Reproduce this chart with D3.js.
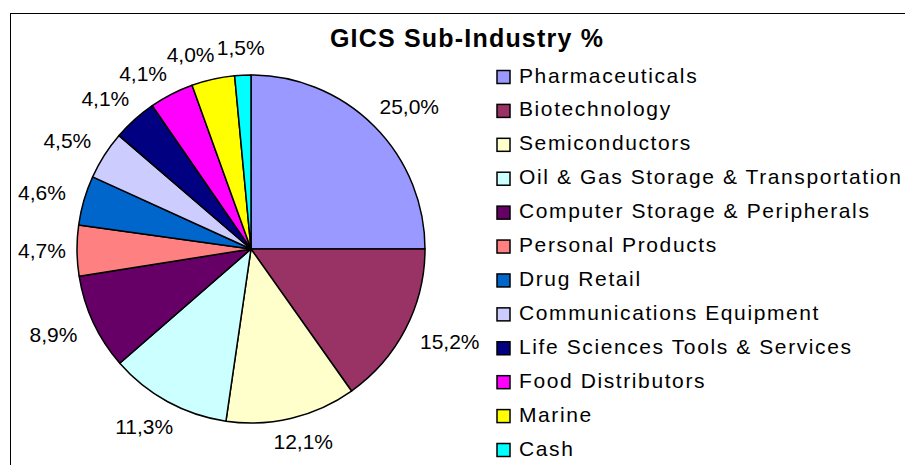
<!DOCTYPE html>
<html>
<head>
<meta charset="utf-8">
<script src="https://cdn.jsdelivr.net/npm/d3@7"></script>
<style>
  body { margin: 0; background: #fff; }
  svg { display: block; font-family: "Liberation Sans", Arial, sans-serif; }
</style>
</head>
<body>
<svg width="905" height="465"></svg>
<script>
// data
var categories = ["Pharmaceuticals", "Biotechnology", "Semiconductors",
  "Oil & Gas Storage & Transportation", "Computer Storage & Peripherals",
  "Personal Products", "Drug Retail", "Communications Equipment",
  "Life Sciences Tools & Services", "Food Distributors", "Marine", "Cash"];
var values = [25.0, 15.2, 12.1, 11.3, 8.9, 4.7, 4.6, 4.5, 4.1, 4.1, 4.0, 1.5];
var colors = ["#9999FF", "#993366", "#FFFFCC", "#CCFFFF", "#660066", "#FF8080",
  "#0066CC", "#CCCCFF", "#000080", "#FF00FF", "#FFFF00", "#00FFFF"];
var title = "GICS Sub-Industry %";

var svg = d3.select("svg"),
  width = +svg.attr("width"),
  height = +svg.attr("height");

var cx = 251, cy = 249, radius = 174;
var labelGap = 20, labelH = 16, plotLeft = 18, plotBottom = 450;

// chart area border (right / bottom run off the picture)
svg.append("rect")
  .attr("x", 10.5).attr("y", 13.5)
  .attr("width", width + 20).attr("height", height + 20)
  .attr("fill", "none").attr("stroke", "#000").attr("stroke-width", 1);

var pie = d3.pie().sort(null).value(d => d)(values);
var arc = d3.arc().innerRadius(0).outerRadius(radius);

var g = svg.append("g").attr("transform", "translate(" + cx + "," + cy + ")");

g.selectAll("path")
  .data(pie)
  .enter().append("path")
  .attr("d", arc)
  .attr("fill", (d, i) => colors[i])
  .attr("stroke", "#000")
  .attr("stroke-width", 1.5)
  .attr("stroke-linejoin", "round");

// data labels
var fmt = v => d3.format(".1f")(v).replace(".", ",") + "%";
var labels = g.selectAll("text.lbl")
  .data(pie)
  .enter().append("text")
  .attr("class", "lbl")
  .attr("text-anchor", "middle")
  .attr("dy", "0.35em")
  .attr("font-size", 21)
  .attr("fill", "#000")
  .text(d => fmt(d.data));

var info = pie.map(function (d, i) {
  return { a: (d.startAngle + d.endAngle) / 2, w: labels.nodes()[i].getComputedTextLength() };
});
// label box sits just outside the rim, kept inside the plot area
function pos(o) {
  var s = Math.sin(o.a), c = Math.cos(o.a);
  var x = (radius + labelGap) * s + o.w / 2 * s;
  var y = -(radius + labelGap) * c - labelH / 2 * c;
  x = Math.max(x, plotLeft - cx + o.w / 2);
  y = Math.min(y, plotBottom - cy - labelH / 2);
  return [x, y];
}
// push crowded labels counter-clockwise so they do not overlap
for (var i = info.length - 2; i >= 0; i--) {
  var guard = 0;
  while (guard++ < 200) {
    var p = pos(info[i]), q = pos(info[i + 1]);
    var needX = (info[i].w + info[i + 1].w) / 2 + 2;
    if (Math.abs(p[0] - q[0]) >= needX || Math.abs(p[1] - q[1]) >= 18) break;
    info[i].a -= Math.PI / 360;
  }
}
labels
  .attr("x", (d, i) => pos(info[i])[0])
  .attr("y", (d, i) => pos(info[i])[1]);

// title
svg.append("text")
  .attr("x", 467).attr("y", 47)
  .attr("text-anchor", "middle")
  .attr("font-size", 25)
  .attr("font-weight", "bold")
  .attr("letter-spacing", 1.2)
  .text(title);

// legend
var rowY = d3.scalePoint().domain(categories).range([77, 450]);
var legend = svg.append("g").selectAll("g")
  .data(categories)
  .enter().append("g")
  .attr("transform", d => "translate(497," + rowY(d) + ")");

legend.append("rect")
  .attr("x", 0).attr("y", -6.5)
  .attr("width", 13).attr("height", 13)
  .attr("fill", (d, i) => colors[i])
  .attr("stroke", "#000").attr("stroke-width", 1.5);

legend.append("text")
  .attr("x", 22).attr("y", 5.5)
  .attr("font-size", 21)
  .attr("letter-spacing", 1.6)
  .attr("fill", "#000")
  .text(d => d);
</script>
</body>
</html>
